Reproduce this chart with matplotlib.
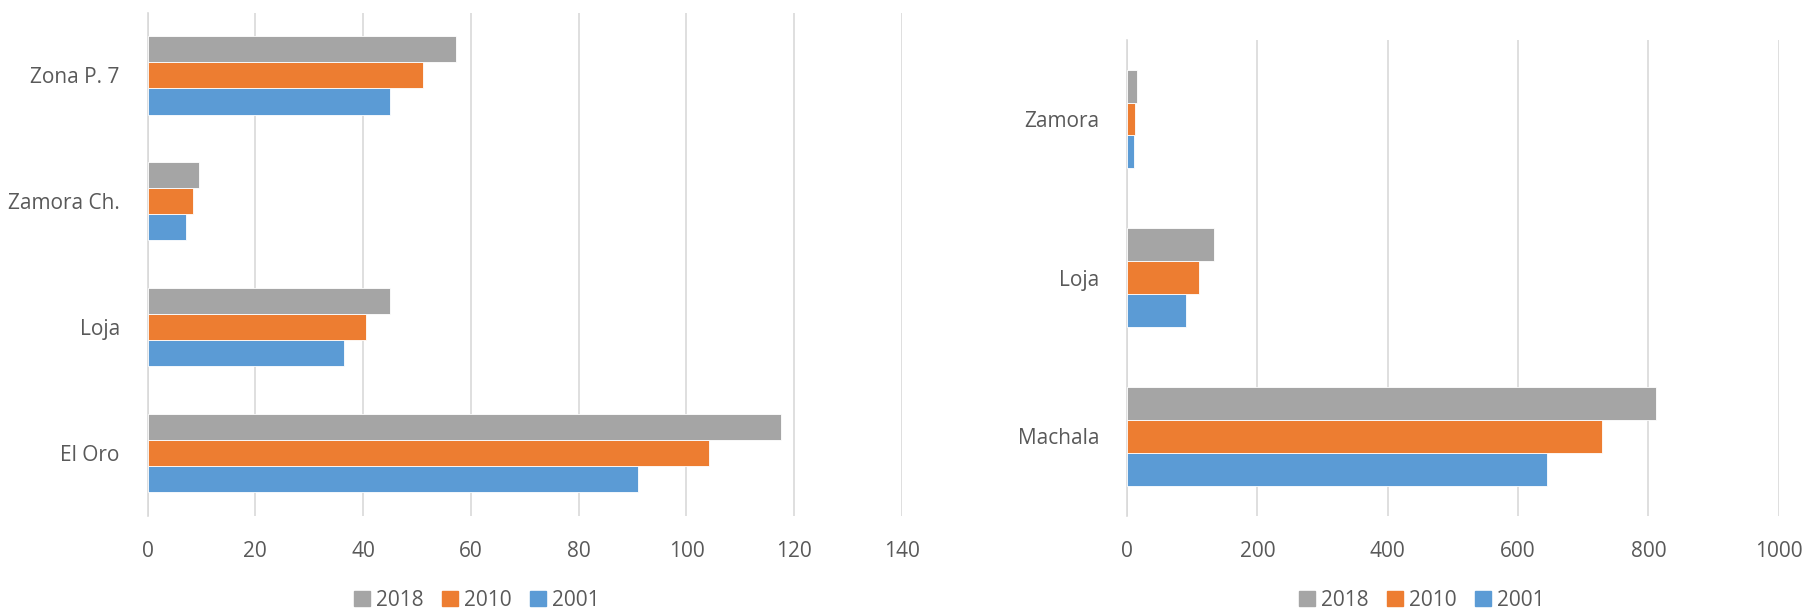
import numpy as np
import matplotlib.pyplot as plt
import matplotlib.patches as mpatches

plt.rcParams['font.family'] = ['Open Sans', 'DejaVu Sans']

years = ['2001', '2010', '2018']
colour = {'2001': '#5B9BD5', '2010': '#ED7D31', '2018': '#A5A5A5'}

# left panel: provinces / zone
left_cats = ['El Oro', 'Loja', 'Zamora Ch.', 'Zona P. 7']
left_2001 = [91.1, 36.5, 7.1, 44.9]
left_2010 = [104.2, 40.5, 8.5, 51.1]
left_2018 = [117.5, 44.9, 9.6, 57.3]

# right panel: cities
right_cats = ['Machala', 'Loja', 'Zamora']
right_2001 = [644, 90, 11]
right_2010 = [728, 111, 13]
right_2018 = [811, 134, 15]

fig = plt.figure(figsize=(18.08, 6.10), dpi=100)
ax1 = fig.add_axes([0.0816, 0.1548, 0.4173, 0.8247])
ax2 = fig.add_axes([0.6233, 0.1548, 0.3606, 0.7801])

bar_h = 1.0 / (3 + 1.82)


def draw(ax, cats, series, xmax, step):
	y = np.arange(len(cats))
	for k, yr in enumerate(years):
		ax.barh(y + (k - 1) * bar_h, series[yr], height=bar_h, color=colour[yr],
			edgecolor='white', linewidth=0.6, zorder=3)
	ax.set_yticks(y)
	ax.set_yticklabels(cats)
	ax.set_ylim(-0.5, len(cats) - 0.5)
	ax.set_xlim(0, xmax)
	ax.set_xticks(np.arange(0, xmax + 1, step))
	ax.grid(axis='x', color='#D9D9D9', linewidth=1.2, zorder=0)
	for s in ['top', 'right', 'bottom']:
		ax.spines[s].set_visible(False)
	ax.spines['left'].set_color('#D9D9D9')
	ax.spines['left'].set_linewidth(1.2)
	ax.tick_params(axis='both', length=0, labelsize=15, labelcolor='#595959')
	ax.tick_params(axis='y', pad=20)
	ax.tick_params(axis='x', pad=18)


draw(ax1, left_cats, {'2001': left_2001, '2010': left_2010, '2018': left_2018}, 140, 20)
draw(ax2, right_cats, {'2001': right_2001, '2010': right_2010, '2018': right_2018}, 1000, 200)

handles = [mpatches.Patch(color=colour[yr], label=yr) for yr in ['2018', '2010', '2001']]
for xc in [477 / 1808, 1422 / 1808]:
	fig.legend(handles=handles, loc='center', bbox_to_anchor=(xc, 0.016), ncol=3,
		frameon=False, fontsize=15, labelcolor='#595959', handlelength=0.75,
		handleheight=0.75, handletextpad=0.3, columnspacing=0.9)

fig.savefig('out.png', dpi=100)
